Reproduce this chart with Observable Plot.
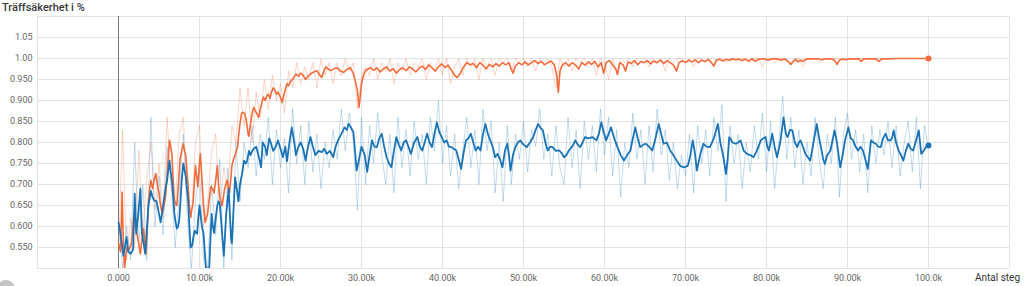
<!DOCTYPE html>
<html>
<head>
<meta charset="utf-8">
<script src="https://cdn.jsdelivr.net/npm/d3@7"></script>
<script src="https://cdn.jsdelivr.net/npm/@observablehq/plot@0.6"></script>
<style>
  html, body { margin: 0; padding: 0; background: #fff; }
  #wrap { position: relative; width: 1024px; height: 286px; overflow: hidden; font-family: Roboto, "Noto Sans", sans-serif; }
  #title { position: absolute; left: 2px; top: 1px; font-size: 11px; font-weight: 500; color: #3a3a3a; white-space: nowrap; }
  #xlabel { position: absolute; left: 975px; top: 272px; font-size: 10px; color: #333; white-space: nowrap; }
  #knob { position: absolute; left: -3px; top: 280px; width: 18px; height: 18px; border-radius: 50%; background: #c4c4c4; }
  #chart svg { display: block; }
</style>
</head>
<body>
<div id="wrap">
  <div id="chart"></div>
  <div id="title">Träffsäkerhet i %</div>
  <div id="xlabel">Antal steg</div>
  <div id="knob"></div>
</div>
<script>
// ---- tick labels ----
const yTicks = [0.55, 0.60, 0.65, 0.70, 0.75, 0.80, 0.85, 0.90, 0.95, 1.00, 1.05];
const yTickLabels = ["0.550", "0.600", "0.650", "0.700", "0.750", "0.800", "0.850", "0.900", "0.950", "1.00", "1.05"];
const xTicks = [0, 10000, 20000, 30000, 40000, 50000, 60000, 70000, 80000, 90000, 100000];
const xTickLabels = ["0.000", "10.00k", "20.00k", "30.00k", "40.00k", "50.00k", "60.00k", "70.00k", "80.00k", "90.00k", "100.0k"];
const xGrid = [-10000, 10000, 20000, 30000, 40000, 50000, 60000, 70000, 80000, 90000, 100000, 110000];
const yGrid = [0.5, 0.55, 0.60, 0.65, 0.70, 0.75, 0.80, 0.85, 0.90, 0.95, 1.00, 1.05, 1.1];

// ---- raw (unsmoothed) series, logged every 500 steps ----
const rawInterval = 500;
const orangeRaw = [
  0.54, 0.83, 0.52, 0.62, 0.55, 0.78, 0.58, 0.72, 0.80, 0.64, 0.75, 0.62, 0.86, 0.70, 0.64, 0.82, 0.86, 0.66, 0.62, 0.80, 0.84, 0.60, 0.66, 0.78, 0.82, 0.64, 0.74, 0.68, 0.84, 0.80, 0.93,
  0.84, 0.93, 0.80, 0.92, 0.86, 0.95, 0.88, 0.96, 0.90, 0.94, 0.87, 0.97, 0.93, 0.99, 0.94, 0.98, 0.95, 0.99, 0.93, 1.0, 0.96, 0.99, 0.94, 0.99, 0.96, 1.0, 0.97, 0.99, 0.88, 0.96,
  0.98, 0.96, 1.0, 0.95, 0.99, 0.97, 1.0, 0.94, 0.99, 0.97, 1.0, 0.96, 0.99, 0.98, 1.0, 0.95, 0.99, 0.97, 1.0, 0.96, 1.0, 0.94, 0.98, 1.0, 0.96, 1.0, 0.98, 1.0, 0.95, 1.0, 0.98, 1.0, 0.96, 1.0, 0.99, 1.0, 0.97, 1.0, 0.99, 1.0,
  0.98, 1.0, 0.97, 1.0, 0.99, 1.0, 0.98, 0.93, 1.0, 0.98, 1.0, 0.97, 1.0, 0.99, 1.0, 0.98, 1.0, 0.96, 1.0, 0.99, 0.95, 1.0, 0.97, 1.0, 0.99, 1.0, 0.98, 1.0, 0.99, 1.0, 0.98, 1.0, 0.99, 1.0, 0.97, 1.0, 0.99, 1.0, 1.0, 0.99, 1.0, 0.98, 1.0, 1.0, 0.99, 1.0, 0.98, 1.0, 1.0, 0.99,
  1.0, 1.0, 0.99, 1.0, 1.0, 0.99, 1.0, 1.0, 0.98, 1.0, 1.0, 0.99, 1.0, 1.0, 1.0, 0.99, 1.0, 1.0, 0.98, 1.0, 1.0, 1.0, 0.99, 1.0, 1.0, 1.0, 1.0, 1.0, 1.0, 1.0, 1.0, 1.0, 1.0, 1.0, 1.0, 1.0, 1.0, 1.0, 1.0, 1.0, 1.0, 1.0, 1.0, 1.0, 1.0, 1.0, 1.0, 1.0, 1.0, 1.0
];
const blueRaw = [
  0.61, 0.50, 0.60, 0.52, 0.80, 0.55, 0.70, 0.52, 0.86, 0.60, 0.72, 0.58, 0.79, 0.70, 0.55, 0.68, 0.82, 0.62, 0.50, 0.66, 0.74, 0.52, 0.50, 0.70, 0.58, 0.76, 0.50, 0.74, 0.52, 0.80, 0.66,
  0.80, 0.74, 0.84, 0.72, 0.82, 0.76, 0.86, 0.70, 0.83, 0.74, 0.81, 0.68, 0.88, 0.75, 0.84, 0.70, 0.85, 0.73, 0.82, 0.69, 0.80, 0.74, 0.83, 0.76, 0.88, 0.78, 0.87, 0.80, 0.64, 0.86,
  0.70, 0.84, 0.75, 0.87, 0.77, 0.70, 0.82, 0.68, 0.86, 0.74, 0.83, 0.72, 0.85, 0.76, 0.82, 0.70, 0.86, 0.78, 0.90, 0.75, 0.84, 0.72, 0.82, 0.69, 0.78, 0.86, 0.74, 0.83, 0.70, 0.88, 0.78, 0.85, 0.68, 0.80, 0.66, 0.84, 0.70, 0.82, 0.76, 0.85,
  0.73, 0.83, 0.79, 0.88, 0.76, 0.82, 0.72, 0.84, 0.74, 0.70, 0.86, 0.74, 0.83, 0.69, 0.85, 0.76, 0.84, 0.73, 0.88, 0.77, 0.86, 0.72, 0.83, 0.67, 0.80, 0.74, 0.87, 0.76, 0.83, 0.70, 0.84, 0.73, 0.88, 0.77, 0.83, 0.71, 0.80, 0.69, 0.77, 0.72, 0.82, 0.68, 0.84, 0.75, 0.83, 0.72, 0.86, 0.78, 0.89, 0.66,
  0.84, 0.75, 0.82, 0.69, 0.80, 0.73, 0.84, 0.76, 0.87, 0.73, 0.85, 0.69, 0.80, 0.91, 0.76, 0.86, 0.74, 0.83, 0.70, 0.80, 0.72, 0.86, 0.76, 0.69, 0.82, 0.75, 0.86, 0.67, 0.82, 0.87, 0.76, 0.83, 0.73, 0.82, 0.68, 0.84, 0.75, 0.83, 0.77, 0.85, 0.74, 0.84, 0.72, 0.80, 0.85, 0.73, 0.86, 0.69, 0.84, 0.79
];

// ---- smoothed series: [step, accuracy] ----
const orangeSmooth = [
  [0,0.56],[250,0.54],[450,0.682],[600,0.56],[750,0.50],[1000,0.55],[1300,0.545],[1600,0.56],[1900,0.63],[2100,0.60],[2300,0.58],[2500,0.56],[2700,0.535],[2900,0.57],[3100,0.595],[3250,0.56],[3400,0.535],[3550,0.60],[3700,0.662],[3850,0.69],[4000,0.71],[4200,0.69],[4400,0.71],[4600,0.726],[4800,0.70],[5000,0.68],[5100,0.662],[5250,0.645],[5400,0.63],[5600,0.65],[5800,0.67],[6000,0.72],[6150,0.77],[6300,0.805],[6450,0.79],[6600,0.77],[6750,0.71],[6900,0.662],[7050,0.655],[7200,0.65],[7400,0.70],[7600,0.76],[7800,0.78],[8000,0.797],[8150,0.78],[8300,0.77],[8450,0.73],[8600,0.695],[8750,0.65],[8900,0.622],[9050,0.64],[9200,0.655],[9350,0.70],[9500,0.745],[9650,0.72],[9800,0.695],[9950,0.74],[10100,0.773],[10250,0.73],[10400,0.68],[10550,0.64],[10700,0.61],[10850,0.62],[11000,0.63],[11200,0.665],[11400,0.695],[11600,0.69],[11800,0.68],[12000,0.71],[12200,0.745],[12350,0.70],[12500,0.67],[12650,0.66],[12800,0.65],[12950,0.67],[13100,0.69],[13250,0.70],[13400,0.71],[13550,0.695],[13700,0.68],[13850,0.71],[14000,0.745],[14200,0.76],[14400,0.77],[14550,0.78],[14700,0.79],[14850,0.82],[15000,0.845],[15200,0.87],[15400,0.872],[15600,0.868],[15800,0.85],[16000,0.82],[16100,0.815],[16300,0.845],[16500,0.87],[16700,0.884],[16900,0.875],[17100,0.868],[17300,0.86],[17500,0.88],[17700,0.895],[17900,0.908],[18100,0.90],[18300,0.91],[18500,0.915],[18700,0.905],[18900,0.92],[19100,0.93],[19300,0.925],[19500,0.915],[19700,0.92],[19950,0.91],[20200,0.895],[20500,0.92],[20800,0.94],[21000,0.935],[21200,0.945],[21500,0.95],[21900,0.963],[22200,0.958],[22500,0.965],[22800,0.96],[23100,0.95],[23400,0.958],[23700,0.963],[24100,0.968],[24500,0.971],[24800,0.962],[25100,0.955],[25350,0.97],[25600,0.98],[25900,0.975],[26200,0.971],[26600,0.976],[27000,0.978],[27400,0.97],[27800,0.967],[28200,0.974],[28600,0.978],[28800,0.972],[29000,0.963],[29250,0.945],[29500,0.923],[29700,0.884],[29850,0.91],[30000,0.94],[30250,0.96],[30500,0.971],[30800,0.975],[31100,0.978],
  [31500,0.972],[31900,0.978],[32300,0.968],[32700,0.975],[33100,0.98],[33500,0.97],[33900,0.976],[34300,0.965],[34700,0.974],[35100,0.978],[35500,0.971],[35900,0.98],[36300,0.975],[36700,0.968],[37100,0.977],[37500,0.982],[37900,0.974],[38300,0.985],[38700,0.978],[39100,0.97],[39500,0.98],[39900,0.987],[40300,0.979],[40700,0.984],[41100,0.972],[41500,0.96],[41800,0.955],[42200,0.965],[42600,0.98],[43000,0.99],[43400,0.985],[43800,0.988],[44200,0.978],[44600,0.99],[45000,0.984],[45400,0.975],[45800,0.986],[46200,0.98],[46600,0.988],[47000,0.982],[47400,0.99],
  [47800,0.985],[48200,0.99],[48700,0.965],[49000,0.982],[49400,0.99],[49800,0.985],[50200,0.992],[50600,0.985],[51000,0.99],[51400,0.995],[51800,0.988],[52200,0.993],[52600,0.985],[53000,0.99],[53400,0.994],[53800,0.985],[54100,0.96],[54300,0.92],[54500,0.97],[54800,0.985],[55200,0.99],[55600,0.982],[56000,0.99],[56400,0.985],[56800,0.975],[57200,0.99],[57600,0.984],[58000,0.992],[58400,0.986],[58800,0.993],[59200,0.98],[59600,0.99],[59900,0.965],[60200,0.99],[60600,0.995],[61000,0.985],[61400,0.975],[61600,0.962],[61900,0.99],[62300,0.985],[62600,0.97],[62900,0.992],[63300,0.988],[63700,0.995],[64100,0.985],[64500,0.993],[64900,0.99],[65300,0.995],[65700,0.987],[66100,0.994],[66500,0.99],[66900,0.996],[67300,0.988],[67700,0.995],[68100,0.99],[68500,0.985],[68900,0.97],[69200,0.99],[69600,0.995],[70000,0.99],[70400,0.996],[70800,0.992],[71200,0.997],[71600,0.99],[72000,0.996],[72400,0.993],[72800,0.998],[73200,0.99],[73500,0.982],[73800,0.996],[74200,0.998],[74600,0.994],[75000,0.998],[75400,0.996],[75800,0.999],[76200,0.997],[76600,0.999],[77000,0.995],[77400,0.998],[77800,0.994],[78200,0.999],[78600,0.993],[79000,0.998],[79400,0.999],[79800,0.999],[80200,0.996],[80600,0.999],[81000,0.999],[81400,0.999],[81800,0.996],[82200,0.999],[82600,0.994],[83000,0.986],[83300,0.993],[83600,0.998],[83900,0.992],[84200,0.996],[84500,0.993],[84800,0.998],[85200,0.999],[85600,0.999],[86000,0.999],[86400,0.999],[86800,0.997],[87200,0.999],[87600,0.999],[88000,0.999],[88400,0.996],[88700,0.986],[89000,0.996],[89400,0.999],[89800,0.997],[90200,0.999],[90600,0.999],[91000,0.999],[91400,0.999],[91700,0.993],[92000,0.999],[92500,0.999],[93000,0.999],[93500,0.999],[93900,0.993],[94200,0.999],[95000,0.999],[96000,1.0],[97000,1.0],[98000,1.0],[99000,1.0],[100000,1.0]
];
const blueSmooth = [
  [0,0.61],[250,0.583],[600,0.53],[1000,0.575],[1200,0.54],[1500,0.535],[1800,0.545],[2000,0.678],[2200,0.583],[2450,0.63],[2700,0.69],[2900,0.583],[3100,0.56],[3300,0.535],[3500,0.59],[3700,0.65],[4000,0.685],[4200,0.67],[4400,0.662],[4700,0.66],[5000,0.63],[5200,0.61],[5400,0.635],[5600,0.662],[5800,0.69],[6000,0.71],[6150,0.735],[6300,0.757],[6450,0.73],[6600,0.71],[6750,0.67],[6900,0.63],[7050,0.61],[7200,0.595],[7350,0.60],[7500,0.615],[7650,0.66],[7800,0.71],[8000,0.75],[8150,0.735],[8300,0.72],[8450,0.69],[8600,0.662],[8750,0.60],[8900,0.55],[9100,0.555],[9250,0.575],[9400,0.59],[9550,0.585],[9700,0.583],[9850,0.62],[10000,0.65],[10150,0.625],[10300,0.60],[10500,0.583],[10650,0.54],[10800,0.50],[11000,0.50],[11200,0.50],[11350,0.57],[11500,0.63],[11650,0.60],[11800,0.585],[12000,0.62],[12200,0.65],[12350,0.66],[12500,0.655],[12650,0.62],[12800,0.58],[13000,0.53],[13150,0.58],[13300,0.63],[13450,0.66],[13600,0.69],[13750,0.63],[13900,0.57],[14000,0.56],[14200,0.64],[14400,0.717],[14600,0.69],[14800,0.66],[15000,0.70],[15300,0.73],[15500,0.757],[15700,0.75],[15900,0.757],[16100,0.78],[16300,0.77],[16500,0.78],[16700,0.785],[17000,0.79],[17200,0.775],[17400,0.76],[17600,0.741],[17800,0.80],[18100,0.79],[18300,0.77],[18600,0.81],[18800,0.80],[19100,0.78],[19400,0.79],[19700,0.805],[20000,0.785],[20300,0.765],[20600,0.79],[20800,0.755],[21100,0.80],[21400,0.836],[21700,0.80],[21900,0.77],[22200,0.79],[22500,0.80],[22800,0.785],[23100,0.757],[23400,0.79],[23700,0.813],[24000,0.79],[24300,0.77],[24700,0.78],[25100,0.777],[25400,0.785],[25700,0.773],[26100,0.78],[26500,0.765],[26800,0.79],[27100,0.805],[27500,0.82],[27900,0.836],[28200,0.83],[28400,0.845],[28700,0.835],[29000,0.825],[29200,0.78],[29400,0.733],[29700,0.76],[30000,0.79],[30400,0.77],[30700,0.73],[31000,0.77],[31300,0.805],[31600,0.79],[31900,0.789],[32200,0.81],[32500,0.821],[32800,0.79],[33100,0.765],[33400,0.75],[33700,0.741],[34000,0.78],[34300,0.813],[34600,0.795],[34900,0.781],[35200,0.80],[35500,0.805],[35800,0.79],[36100,0.773],[36500,0.80],[36900,0.813],[37200,0.79],[37500,0.781],[37800,0.80],[38100,0.821],[38400,0.80],[38700,0.789],[39000,0.82],[39300,0.848],[39600,0.825],[39900,0.813],[40200,0.80],[40500,0.805],[40800,0.79],[41100,0.789],[41400,0.785],[41700,0.781],[42000,0.76],[42300,0.737],[42600,0.775],[42900,0.805],[43200,0.81],[43500,0.821],[43800,0.80],[44100,0.781],[44400,0.79],[44700,0.781],[45000,0.82],[45300,0.844],[45600,0.82],[45900,0.805],[46200,0.79],[46500,0.765],
  [46800,0.773],[47100,0.76],[47400,0.741],[47700,0.78],[48000,0.797],[48200,0.77],[48400,0.733],[48700,0.77],[49000,0.789],[49300,0.80],[49600,0.805],[50000,0.795],[50400,0.789],[50800,0.80],[51200,0.813],[51500,0.83],[51800,0.844],[52100,0.835],[52400,0.829],[52700,0.80],[53000,0.781],[53300,0.79],[53600,0.789],[54000,0.78],[54400,0.781],[54700,0.775],[55000,0.765],[55300,0.77],[55600,0.781],[56000,0.79],[56400,0.805],[56700,0.795],[57000,0.789],[57300,0.80],[57600,0.813],[58000,0.81],[58500,0.813],[59000,0.805],[59300,0.82],[59600,0.848],[59900,0.825],[60200,0.805],[60500,0.82],[60800,0.836],[61200,0.81],[61600,0.789],[62000,0.77],[62400,0.757],[62800,0.77],[63200,0.781],[63500,0.81],[63800,0.836],[64100,0.81],[64400,0.789],[64800,0.795],[65100,0.797],[65500,0.79],[65900,0.781],[66300,0.81],[66700,0.844],[67000,0.82],[67300,0.797],[67700,0.80],[68100,0.781],[68500,0.77],[68900,0.757],[69300,0.745],[69700,0.741],[70000,0.742],[70300,0.745],[70600,0.77],[70900,0.805],[71200,0.77],[71400,0.733],[71800,0.77],[72200,0.797],[72600,0.79],[73000,0.789],[73500,0.81],[74000,0.844],[74300,0.80],[74600,0.773],[74800,0.75],[75000,0.725],[75200,0.76],[75400,0.813],[75800,0.80],[76200,0.797],[76500,0.80],[76800,0.805],[77200,0.78],[77600,0.773],[78000,0.77],[78400,0.765],[78800,0.78],[79300,0.805],[79600,0.81],[79900,0.813],[80100,0.79],[80300,0.781],[80500,0.80],[80700,0.821],[81000,0.79],[81300,0.765],[81700,0.80],[82100,0.86],[82400,0.82],[82600,0.813],[82900,0.83],[83200,0.829],[83500,0.80],[83800,0.789],[84000,0.80],[84200,0.805],[84500,0.79],[84800,0.773],[85100,0.765],[85400,0.757],[85800,0.80],[86200,0.844],[86500,0.81],[86800,0.781],[87000,0.76],[87200,0.749],[87500,0.77],[87900,0.781],[88200,0.81],[88400,0.829],[88700,0.80],[89100,0.741],[89400,0.77],[89700,0.805],[90100,0.836],[90400,0.81],[90700,0.805],[91000,0.79],[91300,0.781],[91600,0.79],[91900,0.781],[92200,0.76],[92500,0.737],[92700,0.77],[92900,0.805],[93200,0.80],[93500,0.797],[93800,0.79],[94100,0.789],[94400,0.81],[94700,0.821],[95000,0.805],[95300,0.805],[95500,0.81],[95700,0.829],[96000,0.80],[96300,0.781],[96600,0.77],[96900,0.757],[97200,0.78],[97500,0.797],[97800,0.785],[98100,0.781],[98400,0.80],[98800,0.829],[99100,0.773],[99400,0.78],[99700,0.79],[100000,0.793]
];

const orangeColor = "#f26b3a";
const blueColor = "#1a73b5";

const orangeRawData = orangeRaw.map((v, i) => ({step: i * rawInterval, acc: v}));
const blueRawData = blueRaw.map((v, i) => ({step: i * rawInterval, acc: v}));
const oS = orangeSmooth.map(([s, v]) => ({step: s, acc: v}));
const bS = blueSmooth.map(([s, v]) => ({step: s, acc: v}));

const chart = Plot.plot({
  width: 1024,
  height: 286,
  marginTop: 16,
  marginBottom: 18,
  marginLeft: 37,
  marginRight: 15,
  style: {fontFamily: "Roboto, 'Noto Sans', sans-serif", fontSize: "9px", color: "#666", background: "transparent"},
  x: {domain: [-10000, 110000], ticks: xTicks, tickFormat: (d) => xTickLabels[xTicks.indexOf(d)], tickSize: 0, tickPadding: 6, label: null},
  y: {domain: [0.5, 1.1], ticks: yTicks, tickFormat: (d) => yTickLabels[yTicks.indexOf(d)], tickSize: 0, tickPadding: 5, label: null},
  marks: [
    Plot.ruleY(yGrid, {stroke: "#e3e3e3", strokeWidth: 1}),
    Plot.ruleX(xGrid, {stroke: "#e3e3e3", strokeWidth: 1}),
    Plot.ruleX([0], {stroke: "#777", strokeWidth: 1}),
    Plot.lineY(orangeRawData, {x: "step", y: "acc", stroke: orangeColor, strokeOpacity: 0.28, strokeWidth: 1, clip: true}),
    Plot.lineY(blueRawData, {x: "step", y: "acc", stroke: blueColor, strokeOpacity: 0.26, strokeWidth: 1, clip: true}),
    Plot.lineY(oS, {x: "step", y: "acc", stroke: orangeColor, strokeWidth: 1.6, clip: true}),
    Plot.lineY(bS, {x: "step", y: "acc", stroke: blueColor, strokeWidth: 1.8, clip: true}),
    Plot.dot([oS[oS.length - 1]], {x: "step", y: "acc", fill: orangeColor, r: 3}),
    Plot.dot([bS[bS.length - 1]], {x: "step", y: "acc", fill: blueColor, r: 3})
  ]
});
document.getElementById("chart").appendChild(chart);
</script>
</body>
</html>
